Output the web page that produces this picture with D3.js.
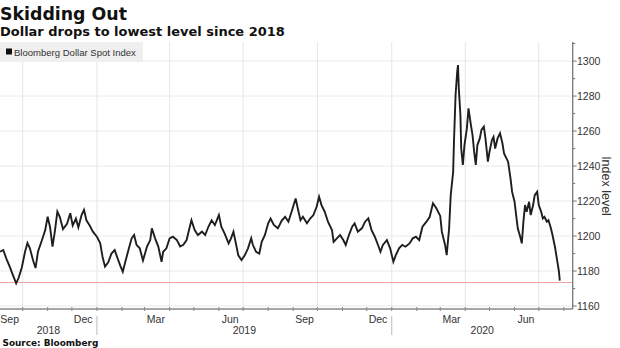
<!DOCTYPE html>
<html>
<head>
<meta charset="utf-8">
<script src="https://cdn.jsdelivr.net/npm/d3@7"></script>
<style>
  html, body { margin: 0; padding: 0; background: #fff; }
  svg { display: block; }
</style>
</head>
<body>
<svg id="chart" width="620" height="348"></svg>
<script>
// ---------- data ----------
const title = "Skidding Out";
const subtitle = "Dollar drops to lowest level since 2018";
const seriesName = "Bloomberg Dollar Spot Index";
const source = "Source: Bloomberg";
const yAxisTitle = "Index level";

const dates = [
"2018-09-03","2018-09-07","2018-09-11","2018-09-15","2018-09-19","2018-09-23","2018-09-26","2018-09-30",
"2018-10-04","2018-10-07","2018-10-10","2018-10-14","2018-10-17","2018-10-20","2018-10-25","2018-10-29",
"2018-11-01","2018-11-04","2018-11-07","2018-11-10","2018-11-13","2018-11-16","2018-11-20","2018-11-25","2018-11-29",
"2018-12-02","2018-12-06","2018-12-09","2018-12-13","2018-12-16","2018-12-19","2018-12-23","2018-12-27",
"2019-01-01","2019-01-05","2019-01-08","2019-01-11","2019-01-15","2019-01-19","2019-01-23","2019-01-26","2019-01-30",
"2019-02-02","2019-02-05","2019-02-09","2019-02-13","2019-02-16","2019-02-19","2019-02-23","2019-02-27",
"2019-03-04","2019-03-08","2019-03-10","2019-03-14","2019-03-18","2019-03-22","2019-03-24","2019-03-28",
"2019-04-01","2019-04-05","2019-04-10","2019-04-14","2019-04-18","2019-04-22","2019-04-25","2019-04-28",
"2019-05-02","2019-05-06","2019-05-11","2019-05-15","2019-05-19","2019-05-23","2019-05-27",
"2019-06-01","2019-06-04","2019-06-08","2019-06-13","2019-06-16","2019-06-19","2019-06-22","2019-06-25","2019-06-29",
"2019-07-03","2019-07-07","2019-07-11","2019-07-13","2019-07-17","2019-07-21","2019-07-24","2019-07-28",
"2019-08-01","2019-08-04","2019-08-08","2019-08-13","2019-08-18","2019-08-22","2019-08-26","2019-08-30",
"2019-09-04","2019-09-07","2019-09-10","2019-09-13","2019-09-18","2019-09-22","2019-09-26","2019-09-30",
"2019-10-03","2019-10-06","2019-10-10","2019-10-14","2019-10-19","2019-10-21","2019-10-25","2019-10-29",
"2019-11-02","2019-11-05","2019-11-09","2019-11-13","2019-11-16","2019-11-20","2019-11-25","2019-11-29",
"2019-12-03","2019-12-07","2019-12-11","2019-12-15","2019-12-18","2019-12-21","2019-12-26","2019-12-30",
"2020-01-03","2020-01-06","2020-01-10","2020-01-14","2020-01-18","2020-01-23","2020-01-27","2020-01-31",
"2020-02-04","2020-02-08","2020-02-13","2020-02-17","2020-02-21","2020-02-25",
"2020-03-01","2020-03-03","2020-03-07","2020-03-09","2020-03-12","2020-03-14","2020-03-17","2020-03-18",
"2020-03-20","2020-03-22","2020-03-23","2020-03-24","2020-03-26","2020-03-27","2020-03-29","2020-03-31",
"2020-04-03","2020-04-05","2020-04-08","2020-04-10","2020-04-12","2020-04-14","2020-04-16","2020-04-19",
"2020-04-21","2020-04-24","2020-04-26","2020-04-29",
"2020-05-01","2020-05-04","2020-05-06","2020-05-08","2020-05-11","2020-05-14","2020-05-17","2020-05-19",
"2020-05-22","2020-05-24","2020-05-27","2020-05-29",
"2020-06-01","2020-06-03","2020-06-05","2020-06-08","2020-06-10","2020-06-12","2020-06-14","2020-06-16",
"2020-06-19","2020-06-21","2020-06-24","2020-06-26","2020-06-29",
"2020-07-01","2020-07-04","2020-07-06","2020-07-08","2020-07-11","2020-07-13","2020-07-16","2020-07-18",
"2020-07-21","2020-07-23","2020-07-26","2020-07-27"
];

const values = [
1191,1192,1187,1182.5,1177.7,1173,1176,1182,
1191,1196,1193,1186,1181.7,1191,1197.7,1203.4,
1211,1205,1194,1203,1214,1211,1204,1207,1213,
1206,1210,1205,1212,1215,1209,1206,1202.5,
1199.6,1196,1188,1182.5,1185,1190,1192,1188,1183,
1179.6,1185,1192,1198.7,1200.6,1195,1193,1186,
1194,1197.7,1204.4,1198.7,1194,1185.3,1191,1193,
1198.7,1199.6,1197.7,1194,1195,1197.7,1203.4,1209,
1203.4,1200.6,1202.5,1200.6,1205.3,1209,1206.3,
1212,1205.3,1201.5,1195.8,1198.7,1202.5,1195.8,1189,1186.3,
1189,1193,1198.7,1195,1191,1190,1196.7,1200.6,
1207.3,1210,1206.3,1204.4,1209,1211,1208.2,1213.9,
1221.5,1215,1209,1211,1207.3,1210,1212,1216.7,
1222.5,1217.7,1213.9,1208.2,1203.4,1196.7,1198.7,1200.6,
1197.7,1194.9,1200.6,1205.3,1207.2,1202.5,1204.4,1208.2,
1210.1,1203.4,1199.6,1194.9,1191,1194.9,1197.7,1193,
1185.3,1189.1,1193,1194.9,1193.9,1195.8,1198.7,1199.6,
1197.7,1205.3,1208.2,1211,1218.7,1216,
1211.5,1202.5,1194.9,1189.1,1204.4,1223.4,1236.7,1253.8,
1280.6,1293.9,1297.7,1284.4,1269,1250,1240.6,1252,
1261.5,1273,1263.4,1257.7,1248.2,1240.6,1252,1255.8,
1260.6,1262.5,1255.8,1242.5,
1248.2,1254.9,1256.7,1250,1255.8,1258.7,1253,1247.2,
1244.4,1242.5,1233,1225.2,
1219.6,1212,1204.4,1199.6,1195.8,1208.2,1217.7,1213.9,
1219.6,1212,1217.7,1223.4,1225.3,
1217.7,1213.9,1210.1,1211,1208.2,1209,1204.4,1200.6,
1193.9,1188.2,1179.6,1174.5
];

const yTicks = [1160,1180,1200,1220,1240,1260,1280,1300];
const monthLabels = ["Sep","Dec","Mar","Jun","Sep","Dec","Mar","Jun"];
const monthLabelDates = ["2018-09-15","2018-12-15","2019-03-15","2019-06-15","2019-09-15","2019-12-15","2020-03-15","2020-06-15"];
const yearLabels = ["2018","2019","2020"];
const yearStarts = ["2019-01-01","2020-01-01"];
const xDomain = ["2018-09-03","2020-08-12"];
const yDomain = [1158.3,1310.9];
const lowLevel = 1174;

// ---------- drawing ----------
const parse = d3.utcParse("%Y-%m-%d");
const data = dates.map((d,i) => ({date: parse(d), value: values[i]}));

const svg = d3.select("#chart");
const plotLeft = 0, plotRight = 572.7, plotTop = 42, plotBottom = 309;

const x = d3.scaleUtc().domain(xDomain.map(parse)).range([plotLeft, plotRight]);
const y = d3.scaleLinear().domain(yDomain).range([plotBottom, plotTop]);

const txtFont = "'Liberation Sans', Arial, sans-serif";
const boldFont = "'DejaVu Sans', Verdana, sans-serif";

function fit(sel, width) {
  const node = sel.node();
  const fs = parseFloat(sel.attr("font-size"));
  const w = node.getComputedTextLength();
  if (w > 0) sel.attr("font-size", (fs * width / w).toFixed(2));
  return sel;
}

// horizontal gridlines
svg.append("g").selectAll("line").data(yTicks).join("line")
  .attr("x1", plotLeft).attr("x2", plotRight)
  .attr("y1", d => y(d)).attr("y2", d => y(d))
  .attr("stroke", "#ebebeb").attr("stroke-width", 1);

// vertical quarter gridlines
const quarters = d3.utcMonth.every(3).range(parse("2018-10-01"), x.domain()[1]);
svg.append("g").selectAll("line").data(quarters).join("line")
  .attr("x1", d => x(d)).attr("x2", d => x(d))
  .attr("y1", plotTop).attr("y2", plotBottom)
  .attr("stroke", "#e6e6e6").attr("stroke-width", 1);

// low level reference line
svg.append("line")
  .attr("x1", plotLeft).attr("x2", plotRight)
  .attr("y1", Math.round(y(lowLevel)) + 0.5).attr("y2", Math.round(y(lowLevel)) + 0.5)
  .attr("stroke", "#f2a5a5").attr("stroke-width", 1);

// series
svg.append("path").datum(data)
  .attr("fill", "none")
  .attr("stroke", "#1e1e1e")
  .attr("stroke-width", 1.9)
  .attr("stroke-linejoin", "miter")
  .attr("d", d3.line().x(d => x(d.date)).y(d => y(d.value)));

// legend
svg.append("rect").attr("x", 0).attr("y", 42).attr("width", 143).attr("height", 20)
  .attr("fill", "#efefef");
svg.append("rect").attr("x", 6).attr("y", 48.5).attr("width", 6).attr("height", 6).attr("fill", "#111");
fit(svg.append("text").attr("x", 14).attr("y", 55.5)
  .attr("font-family", txtFont).attr("font-size", 9.5).attr("fill", "#333")
  .text(seriesName), 122);

// x axis line
svg.append("line").attr("x1", plotLeft).attr("x2", plotRight)
  .attr("y1", plotBottom).attr("y2", plotBottom)
  .attr("stroke", "#8a8a8a").attr("stroke-width", 1.5);
// monthly ticks
const months = d3.utcMonth.range(parse("2018-10-01"), x.domain()[1]);
svg.append("g").selectAll("line").data(months).join("line")
  .attr("x1", d => x(d)).attr("x2", d => x(d))
  .attr("y1", plotBottom - 2).attr("y2", plotBottom + 2)
  .attr("stroke", "#8a8a8a").attr("stroke-width", 1);

// month labels
svg.append("g").selectAll("text").data(monthLabels).join("text")
  .attr("x", (d,i) => x(parse(monthLabelDates[i])))
  .attr("y", 322.5)
  .attr("text-anchor", "middle")
  .attr("font-family", txtFont).attr("font-size", 10.5).attr("fill", "#333")
  .text(d => d);

// year separators and labels
const yearBounds = [x.domain()[0], ...yearStarts.map(parse), x.domain()[1]];
svg.append("g").selectAll("line").data(yearStarts).join("line")
  .attr("x1", d => x(parse(d))).attr("x2", d => x(parse(d)))
  .attr("y1", 316).attr("y2", 335)
  .attr("stroke", "#bbbbbb").attr("stroke-width", 1);
svg.append("g").selectAll("text").data(yearLabels).join("text")
  .attr("x", (d,i) => (x(yearBounds[i]) + x(yearBounds[i+1])) / 2)
  .attr("y", 334)
  .attr("text-anchor", "middle")
  .attr("font-family", txtFont).attr("font-size", 10.5).attr("fill", "#333")
  .text(d => d);

// y axis
svg.append("line").attr("x1", plotRight).attr("x2", plotRight)
  .attr("y1", plotTop).attr("y2", plotBottom)
  .attr("stroke", "#777").attr("stroke-width", 1.3);
const minorTicks = d3.range(1160, 1311, 10);
svg.append("g").selectAll("line").data(minorTicks).join("line")
  .attr("x1", plotRight).attr("x2", d => plotRight + (d % 20 === 0 ? 4 : 2.5))
  .attr("y1", d => y(d)).attr("y2", d => y(d))
  .attr("stroke", "#777").attr("stroke-width", 1);
svg.append("g").selectAll("text").data(yTicks).join("text")
  .attr("x", 577).attr("y", d => y(d) + 3.8)
  .attr("font-family", txtFont).attr("font-size", 10.5).attr("fill", "#333")
  .text(d => d);

// y axis title
svg.append("text")
  .attr("transform", "translate(602,186) rotate(90)")
  .attr("text-anchor", "middle")
  .attr("font-family", txtFont).attr("font-size", 12.5).attr("fill", "#333")
  .text(yAxisTitle);

// titles
fit(svg.append("text").attr("x", 0).attr("y", 19.5)
  .attr("font-family", boldFont).attr("font-weight", "bold").attr("font-size", 16).attr("fill", "#111")
  .text(title), 127);
fit(svg.append("text").attr("x", 0).attr("y", 35.5)
  .attr("font-family", boldFont).attr("font-weight", "bold").attr("font-size", 12.5).attr("fill", "#111")
  .text(subtitle), 285);
fit(svg.append("text").attr("x", 2.5).attr("y", 345.5)
  .attr("font-family", boldFont).attr("font-weight", "bold").attr("font-size", 9).attr("fill", "#111")
  .text(source), 96);
</script>
</body>
</html>
